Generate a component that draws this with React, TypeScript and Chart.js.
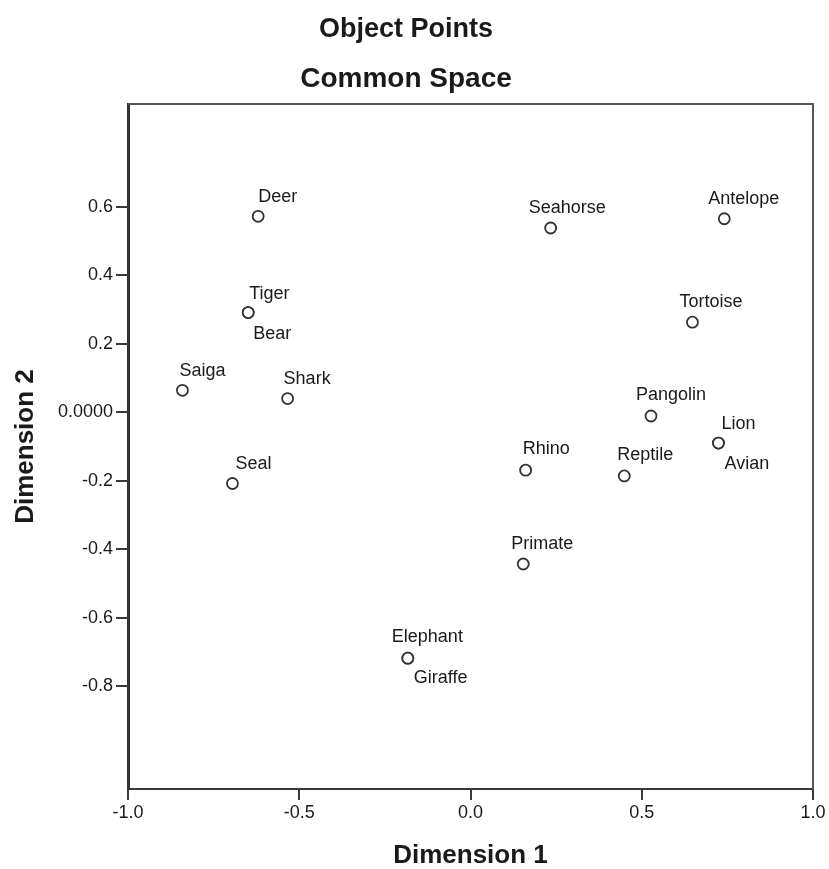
import React, { useEffect, useRef } from "react";
import { Chart, registerables } from "chart.js";

Chart.register(...registerables);

// ---- data ----
const objectNames = [
  "Deer", "Seahorse", "Antelope", "Tiger", "Bear", "Tortoise", "Saiga", "Shark",
  "Pangolin", "Lion", "Avian", "Rhino", "Reptile", "Seal", "Primate", "Elephant", "Giraffe",
];
const dimension1 = [
  -0.620, 0.234, 0.741, -0.649, -0.649, 0.648, -0.841, -0.534,
  0.527, 0.724, 0.724, 0.161, 0.449, -0.695, 0.154, -0.183, -0.183,
];
const dimension2 = [
  0.572, 0.538, 0.565, 0.291, 0.291, 0.263, 0.064, 0.040,
  -0.011, -0.090, -0.090, -0.169, -0.186, -0.208, -0.443, -0.718, -0.718,
];
const xTickValues = [-1.0, -0.5, 0.0, 0.5, 1.0];
const yTickValues = [-0.8, -0.6, -0.4, -0.2, 0.0, 0.2, 0.4, 0.6];
const chartTitles = ["Object Points", "Common Space"];
const xAxisTitle = "Dimension 1";
const yAxisTitle = "Dimension 2";

// ---- label placement (pixel offset from the marker to the label's left baseline) ----
const labelOffsets: [number, number][] = [
  [0, -14], [-22, -15], [-16, -15], [1, -14], [5, 26], [-13, -15], [-3, -14], [-4, -15],
  [-15, -16], [3, -14], [6, 26], [-3, -16], [-7, -16], [3, -14], [-12, -15], [-16, -16], [6, 25],
];

const FONT = "'Liberation Sans', Arial, Helvetica, sans-serif";
const INK = "#1a1a1a";
const AXIS = "#3a3a3a";

const decorPlugin = {
  id: "decor",
  afterDraw(chart: any) {
    const { ctx, chartArea } = chart;
    ctx.save();
    // top and right frame
    ctx.strokeStyle = "#555";
    ctx.lineWidth = 2;
    ctx.beginPath();
    ctx.moveTo(chartArea.left, chartArea.top);
    ctx.lineTo(chartArea.right, chartArea.top);
    ctx.lineTo(chartArea.right, chartArea.bottom);
    ctx.stroke();
    // titles
    ctx.fillStyle = INK;
    ctx.textAlign = "center";
    ctx.textBaseline = "alphabetic";
    ctx.font = `bold 27px ${FONT}`;
    ctx.fillText(chartTitles[0], 406, 37);
    ctx.font = `bold 28px ${FONT}`;
    ctx.fillText(chartTitles[1], 406, 87);
    ctx.restore();
  },
  afterDatasetsDraw(chart: any) {
    const { ctx } = chart;
    const meta = chart.getDatasetMeta(0);
    ctx.save();
    ctx.fillStyle = INK;
    ctx.font = `18px ${FONT}`;
    ctx.textAlign = "left";
    ctx.textBaseline = "alphabetic";
    meta.data.forEach((pt: any, i: number) => {
      const [dx, dy] = labelOffsets[i] || [0, -14];
      ctx.fillText(objectNames[i], pt.x + dx, pt.y + dy);
    });
    ctx.restore();
  },
};

export default function App() {
  const canvasRef = useRef<HTMLCanvasElement | null>(null);

  useEffect(() => {
    document.body.style.margin = "0";
    const canvas = canvasRef.current;
    if (!canvas) return;
    const chart = new Chart(canvas, {
      type: "scatter",
      data: {
        datasets: [
          {
            label: "Object Points",
            data: dimension1.map((x, i) => ({ x, y: dimension2[i] })),
            pointStyle: "circle",
            pointRadius: 5.5,
            pointBorderWidth: 1.8,
            pointBorderColor: "#333",
            pointBackgroundColor: "#ffffff",
            showLine: false,
          },
        ],
      },
      plugins: [decorPlugin],
      options: {
        animation: false,
        responsive: false,
        devicePixelRatio: 1,
        layout: { padding: { left: 0, right: 16, top: 104, bottom: 0 } },
        plugins: {
          legend: { display: false },
          title: { display: false },
          tooltip: { enabled: false },
        },
        scales: {
          x: {
            type: "linear",
            position: "bottom",
            min: -1,
            max: 1,
            afterBuildTicks: (s: any) => {
              s.ticks = xTickValues.map((v) => ({ value: v }));
            },
            afterFit: (s: any) => {
              s.height = 80;
            },
            ticks: {
              callback: (v: any) => Number(v).toFixed(1),
              font: { family: FONT, size: 18 },
              color: INK,
              padding: 2,
              maxRotation: 0,
              autoSkip: false,
            },
            grid: {
              drawOnChartArea: false,
              drawTicks: true,
              tickLength: 11,
              color: AXIS,
              lineWidth: 2,
            },
            border: { display: true, color: AXIS, width: 2 },
            title: {
              display: true,
              text: xAxisTitle,
              color: INK,
              font: { family: FONT, size: 26, weight: "bold", lineHeight: 1 },
              padding: { top: 0, bottom: 0 },
            },
          },
          y: {
            type: "linear",
            position: "left",
            min: -1.1,
            max: 0.9,
            afterBuildTicks: (s: any) => {
              s.ticks = yTickValues.map((v) => ({ value: v }));
            },
            afterFit: (s: any) => {
              s.width = 128;
            },
            ticks: {
              callback: (v: any) => (Number(v) === 0 ? "0.0000" : Number(v).toFixed(1)),
              font: { family: FONT, size: 18 },
              color: INK,
              padding: 3,
              autoSkip: false,
            },
            grid: {
              drawOnChartArea: false,
              drawTicks: true,
              tickLength: 12,
              color: AXIS,
              lineWidth: 2,
            },
            border: { display: true, color: "#333", width: 3 },
            title: {
              display: true,
              text: yAxisTitle,
              color: INK,
              font: { family: FONT, size: 26, weight: "bold", lineHeight: 1 },
              padding: { top: 13, bottom: 0 },
            },
          },
        },
      } as any,
    });
    return () => chart.destroy();
  }, []);

  return (
    <div style={{ width: 829, height: 869, background: "#fff" }}>
      <canvas ref={canvasRef} width={829} height={869} style={{ display: "block" }} />
    </div>
  );
}
